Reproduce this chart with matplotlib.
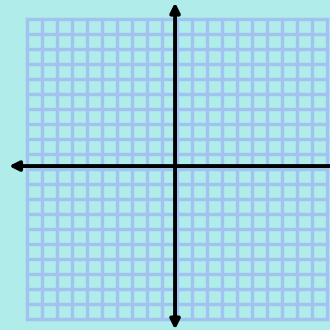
import numpy as np
import matplotlib
matplotlib.use("Agg")
import matplotlib.pyplot as plt

# grid of 20 x 20 unit squares, axes crossing near the middle
grid_x = list(range(-10, 11))
grid_y = list(range(-10, 11))
x_axis_span = (-11.2, 11.2)     # horizontal axis, arrows both ends (right one runs off the edge)
y_axis_span = (-10.7, 11.1)     # vertical axis, arrows both ends
axis_x = -0.13                  # where the vertical axis sits
axis_y = 0.2                    # where the horizontal axis sits

bg = '#b0ecea'
grid_col = '#a2c2f0'

fig = plt.figure(figsize=(3.3, 3.3), dpi=100, facecolor=bg)
ax = fig.add_axes([0, 0, 1, 1])
ax.set_facecolor(bg)
ax.set_xlim(-11.8, 10.2)
ax.set_ylim(-10.73, 11.27)
ax.axis('off')

for gx in grid_x:
    ax.plot([gx, gx], [grid_y[0], grid_y[-1]], color=grid_col, lw=2.4,
            solid_capstyle='projecting', zorder=1)
for gy in grid_y:
    ax.plot([grid_x[0], grid_x[-1]], [gy, gy], color=grid_col, lw=2.4,
            solid_capstyle='projecting', zorder=1)

arrow = dict(arrowstyle='<|-|>', color='black', lw=2.8,
             mutation_scale=14, shrinkA=0, shrinkB=0)
ax.annotate('', xy=(x_axis_span[1], axis_y), xytext=(x_axis_span[0], axis_y),
            arrowprops=arrow, zorder=3, annotation_clip=False)
ax.annotate('', xy=(axis_x, y_axis_span[1]), xytext=(axis_x, y_axis_span[0]),
            arrowprops=arrow, zorder=3, annotation_clip=False)

fig.savefig('out.png', dpi=100, facecolor=bg)
